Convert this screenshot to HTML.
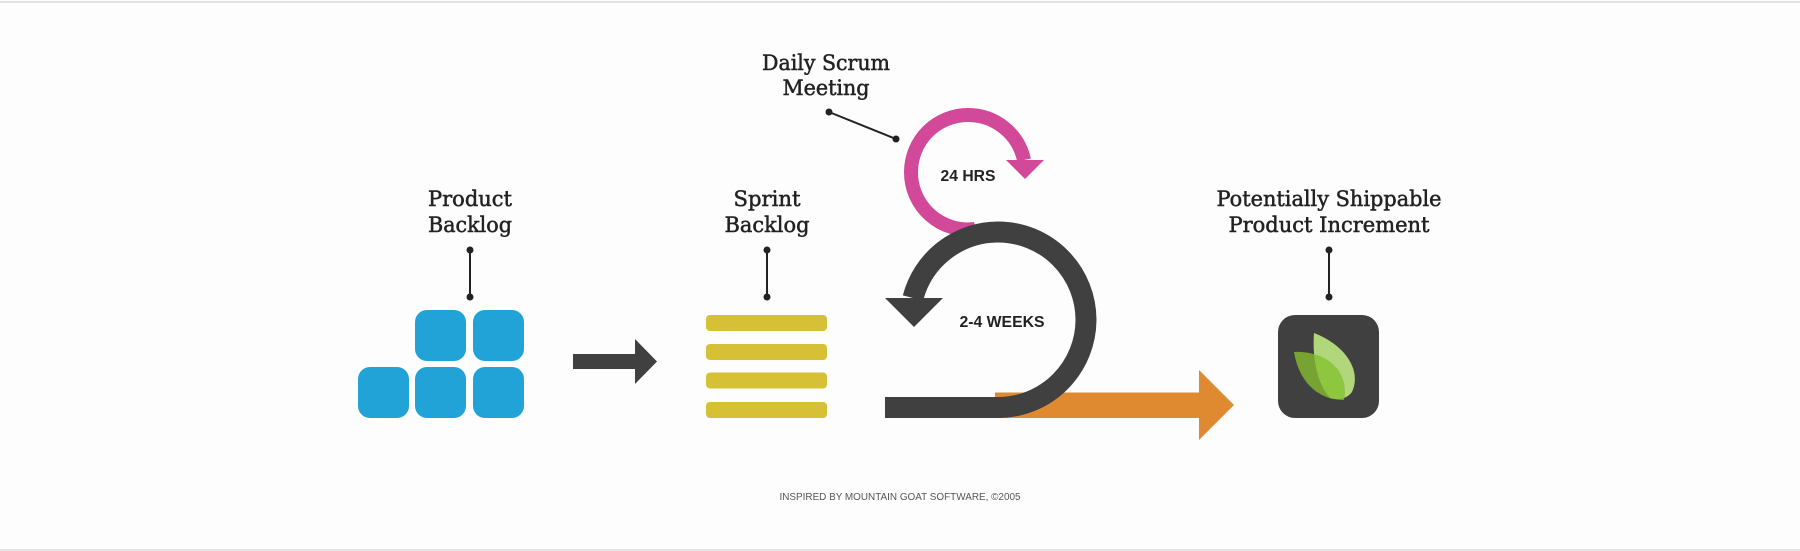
<!DOCTYPE html>
<html><head><meta charset="utf-8"><style>
html,body{margin:0;padding:0;background:#fdfdfd;}
svg{display:block;}
.s{font-family:"DejaVu Serif","Liberation Serif",serif;font-size:21px;fill:#222;stroke:#222;stroke-width:0.5px;}
.b{font-family:"Liberation Sans",sans-serif;font-weight:bold;font-size:16px;fill:#222;}
</style></head><body>
<svg width="1800" height="551" viewBox="0 0 1800 551" xmlns="http://www.w3.org/2000/svg">
<rect x="0" y="0" width="1800" height="551" fill="#fdfdfd"/>
<rect x="0" y="1" width="1800" height="2" fill="#e2e2e2"/>
<rect x="0" y="549" width="1800" height="2" fill="#e2e2e2"/>

<!-- Product Backlog -->
<text class="s" x="470" y="206" text-anchor="middle" textLength="84" lengthAdjust="spacingAndGlyphs">Product</text>
<text class="s" x="470" y="232" text-anchor="middle" textLength="84" lengthAdjust="spacingAndGlyphs">Backlog</text>
<line x1="470" y1="250" x2="470" y2="297" stroke="#222" stroke-width="2"/>
<circle cx="470" cy="250" r="3.5" fill="#222"/><circle cx="470" cy="297" r="3.5" fill="#222"/>
<g fill="#22a3d8">
<rect x="415" y="310" width="51" height="51" rx="12"/>
<rect x="473" y="310" width="51" height="51" rx="12"/>
<rect x="358" y="367" width="51" height="51" rx="12"/>
<rect x="415" y="367" width="51" height="51" rx="12"/>
<rect x="473" y="367" width="51" height="51" rx="12"/>
</g>
<polygon points="573,354 635,354 635,339 657,361.5 635,384 635,369 573,369" fill="#404040"/>

<!-- Sprint Backlog -->
<text class="s" x="767" y="206" text-anchor="middle" textLength="67" lengthAdjust="spacingAndGlyphs">Sprint</text>
<text class="s" x="767" y="232" text-anchor="middle" textLength="85" lengthAdjust="spacingAndGlyphs">Backlog</text>
<line x1="767" y1="250" x2="767" y2="297" stroke="#222" stroke-width="2"/>
<circle cx="767" cy="250" r="3.5" fill="#222"/><circle cx="767" cy="297" r="3.5" fill="#222"/>
<g fill="#d6c136">
<rect x="706" y="315" width="121" height="16" rx="4"/>
<rect x="706" y="344" width="121" height="16" rx="4"/>
<rect x="706" y="372.5" width="121" height="16" rx="4"/>
<rect x="706" y="402" width="121" height="16" rx="4"/>
</g>

<!-- Daily scrum -->
<text class="s" x="826" y="70" text-anchor="middle" textLength="128" lengthAdjust="spacingAndGlyphs">Daily Scrum</text>
<text class="s" x="826" y="95" text-anchor="middle" textLength="87" lengthAdjust="spacingAndGlyphs">Meeting</text>
<line x1="829" y1="112" x2="896" y2="139" stroke="#222" stroke-width="2"/>
<circle cx="829" cy="112" r="3.5" fill="#222"/><circle cx="896" cy="139" r="3.5" fill="#222"/>

<!-- pink loop -->
<path d="M 975 229 A 57 57 0 0 1 911 172 A 57 57 0 0 1 968 115 A 57 57 0 0 1 1024 160" fill="none" stroke="#d3499a" stroke-width="14"/>
<polygon points="1006,160 1044,160 1025,179" fill="#d3499a"/>
<text class="b" x="968" y="181" text-anchor="middle" textLength="55" lengthAdjust="spacingAndGlyphs">24 HRS</text>

<!-- orange arrow -->
<polygon points="995,392.5 1199,392.5 1199,370 1234,405 1199,440 1199,418 995,418" fill="#df8a31"/>

<!-- dark loop -->
<path d="M 885 407.5 L 998 407.5 A 88 88 0 0 0 1086 320 A 88 88 0 0 0 998 232 A 88 88 0 0 0 913 298" fill="none" stroke="#404040" stroke-width="21"/>
<polygon points="885,298 943,298 914,327" fill="#404040"/>
<text class="b" x="1002" y="327" text-anchor="middle" textLength="85" lengthAdjust="spacingAndGlyphs">2-4 WEEKS</text>

<!-- Potentially Shippable -->
<text class="s" x="1329" y="206" text-anchor="middle" textLength="225" lengthAdjust="spacingAndGlyphs">Potentially Shippable</text>
<text class="s" x="1329" y="232" text-anchor="middle" textLength="201" lengthAdjust="spacingAndGlyphs">Product Increment</text>
<line x1="1329" y1="250" x2="1329" y2="297" stroke="#222" stroke-width="2"/>
<circle cx="1329" cy="250" r="3.5" fill="#222"/><circle cx="1329" cy="297" r="3.5" fill="#222"/>
<rect x="1278" y="315" width="101" height="103" rx="17" fill="#404040"/>
<defs>
<clipPath id="fl"><path d="M1294 352 C1318 350 1350 365 1344 400 C1318 400 1299 382 1294 352 Z"/></clipPath>
</defs>
<path d="M1314 333 C1345 345 1362 370 1352 392 C1346 400 1336 400 1330 398 C1318 385 1312 360 1314 333 Z" fill="#b2d67c"/>
<path d="M1294 352 C1318 350 1350 365 1344 400 C1318 400 1299 382 1294 352 Z" fill="#76a332"/>
<path d="M1314 333 C1345 345 1362 370 1352 392 C1346 400 1336 400 1330 398 C1318 385 1312 360 1314 333 Z" fill="#8dc63f" clip-path="url(#fl)"/>

<text x="900" y="500" text-anchor="middle" textLength="241" lengthAdjust="spacingAndGlyphs" style="font-family:'Liberation Sans',sans-serif;font-size:10px;fill:#555;">INSPIRED BY MOUNTAIN GOAT SOFTWARE, ©2005</text>
</svg>
</body></html>
